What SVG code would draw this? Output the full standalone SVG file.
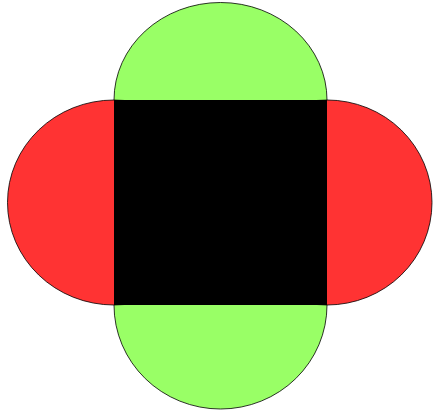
<svg xmlns="http://www.w3.org/2000/svg" width="435" height="410" viewBox="0 0 435 410">
<style>
.g{fill:#99ff66;stroke:#000;stroke-width:0.8}
.r{fill:#ff3333;stroke:#000;stroke-width:0.8}
</style>
<rect width="435" height="410" fill="#fff"/>
<g id="green-top"><ellipse class="g" cx="220.5" cy="100" rx="106.5" ry="97.5"/></g>
<g id="green-bottom"><ellipse class="g" cx="220.5" cy="305" rx="106.5" ry="104"/></g>
<g id="red-left"><ellipse class="r" cx="114" cy="202.5" rx="106.5" ry="102.5"/></g>
<g id="red-right"><ellipse class="r" cx="327" cy="202.5" rx="105" ry="102.5"/></g>
<g id="square"><rect x="114" y="100" width="213" height="205" fill="#000"/></g>
</svg>
